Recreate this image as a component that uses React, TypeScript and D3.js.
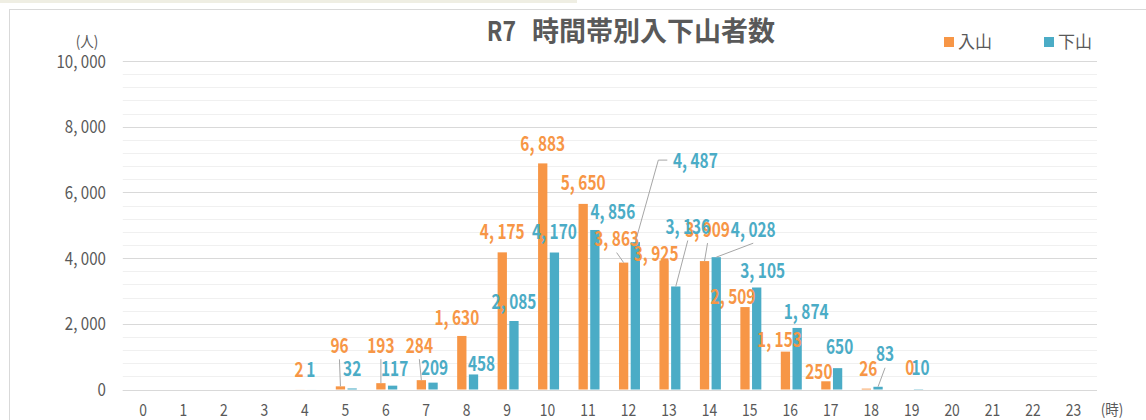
import { useEffect, useRef } from "react";
import * as d3 from "d3";

// hours of the day (category axis)
const hours = ["0","1","2","3","4","5","6","7","8","9","10","11","12","13","14","15","16","17","18","19","20","21","22","23"];
// 入山 (going up) per hour
const nyuzan = [null,null,null,null,2,96,193,284,1630,4175,6883,5650,3863,3925,3909,2509,1153,250,26,0,null,null,null,null];
// 下山 (coming down) per hour
const gezan = [null,null,null,null,1,32,117,209,458,2085,4170,4856,4487,3136,4028,3105,1874,650,83,10,null,null,null,null];
const yTicks = [0, 2000, 4000, 6000, 8000, 10000];

// manual label nudges [dx, dy, leader] copied from the excel layout (0 none, 1 straight, 2 elbow)
const inNudge: Record<number, number[]> = {
  4: [-1, -8, 0], 5: [-1, -29, 1], 6: [0, -26, 1], 7: [-2, -23, 1], 8: [-5, -6, 0],
  9: [0, -9, 0], 10: [0, -8, 0], 11: [0, -9, 0], 12: [-7, -12, 1], 13: [-8, 5, 0],
  14: [3, -20, 1], 15: [-12, 1, 0], 16: [-6, 0, 0], 17: [-7, 2, 0], 18: [2, -8, 0], 19: [3, -10, 0],
};
const outNudge: Record<number, number[]> = {
  4: [-1, -8, 0], 5: [0, -8, 0], 6: [2, -5, 0], 7: [1.5, -3, 0], 8: [8, 1, 0],
  9: [0, -8, 0], 10: [0, -9, 0], 11: [18, -6, 0], 12: [60, -70, 2], 13: [12, -48, 1],
  14: [37, -16, 1], 15: [6, -5, 0], 16: [9, -4, 0], 17: [2, -10, 0], 18: [7, -21, 1], 19: [2, -10, 0],
};

const ORANGE = "#F79646";
const BLUE = "#4BACC6";
const GRAY = "#595959";
const FONT = "'Noto Sans CJK JP', 'Noto Sans', sans-serif";

export default function App() {
  const svgRef = useRef<SVGSVGElement>(null);

  useEffect(() => {
    document.body.style.margin = "0";
    const svg = d3.select(svgRef.current);
    svg.selectAll("*").remove();

    const plot = { left: 122.8, right: 1093.7, top: 61, bottom: 389.5 };

    const x0 = d3.scaleBand().domain(hours).range([plot.left, plot.right]);
    const groupW = 21;
    const x1 = d3.scaleBand().domain(["in", "out"]).range([0, groupW]).paddingInner(0.205);
    const groupOff = (x0.bandwidth() - groupW) / 2 + 1;
    const y = d3.scaleLinear().domain([0, 10000]).range([plot.bottom, plot.top]);
    const fmt = (v: number) => d3.format(",")(v).replace(/,/g, ", ");

    // condensed-looking text (excel gothic is narrow)
    const cText = (
      g: any, x: number, yy: number, txt: string, size: number, color: string,
      weight = 400, anchor = "middle", sx = 0.8
    ) =>
      g.append("text")
        .attr("transform", `translate(${x},${yy}) scale(${sx},1)`)
        .attr("text-anchor", anchor)
        .attr("font-family", FONT)
        .attr("font-size", size)
        .attr("font-weight", weight)
        .attr("fill", color)
        .text(txt);

    // background + excel frame bits
    svg.append("rect").attr("width", 1146).attr("height", 420).attr("fill", "#fff");
    svg.append("rect").attr("x", 0).attr("y", 0).attr("width", 577).attr("height", 3).attr("fill", "#efeee3");
    svg.append("line").attr("x1", 9).attr("x2", 1146).attr("y1", 9.5).attr("y2", 9.5).attr("stroke", "#d9d9d9");
    svg.append("line").attr("x1", 9.5).attr("x2", 9.5).attr("y1", 9).attr("y2", 420).attr("stroke", "#d9d9d9");

    // gridlines: minor every 400, major every 2000
    const grid = svg.append("g");
    grid.selectAll("line.minor")
      .data(d3.range(400, 10000, 400).filter(v => v % 2000 !== 0))
      .enter().append("line")
      .attr("x1", plot.left).attr("x2", 1097)
      .attr("y1", d => Math.round(y(d)) + 0.5).attr("y2", d => Math.round(y(d)) + 0.5)
      .attr("stroke", "#f0f0f0");
    grid.selectAll("line.major")
      .data(yTicks)
      .enter().append("line")
      .attr("x1", plot.left).attr("x2", 1097)
      .attr("y1", d => Math.round(y(d)) + 0.5).attr("y2", d => Math.round(y(d)) + 0.5)
      .attr("stroke", "#d9d9d9");

    // y tick labels
    yTicks.forEach(t => {
      cText(svg, 106, y(t) + 6.5, fmt(t), 18, GRAY, 400, "end", 0.84);
    });
    cText(svg, 87, 47, "(人)", 15, GRAY, 400, "middle", 0.9);

    // x tick labels
    hours.forEach(h => {
      cText(svg, x0(h)! + x0.bandwidth() / 2, 416, h, 17, GRAY, 400, "middle", 0.82);
    });
    cText(svg, 1112, 415, "(時)", 15, GRAY, 400, "middle", 0.9);

    // bars
    const series = [
      { key: "in", values: nyuzan, color: ORANGE, nudge: inNudge },
      { key: "out", values: gezan, color: BLUE, nudge: outNudge },
    ];
    const barX = (h: string, key: string) => x0(h)! + groupOff + x1(key)!;

    series.forEach(s => {
      svg.append("g").selectAll("rect")
        .data(hours.map((h, i) => ({ h, v: s.values[i] })).filter(d => d.v != null))
        .enter().append("rect")
        .attr("x", d => barX(d.h, s.key))
        .attr("width", x1.bandwidth())
        .attr("y", d => y(d.v as number))
        .attr("height", d => plot.bottom - y(d.v as number))
        .attr("fill", s.color);
    });

    // axis line
    svg.append("line")
      .attr("x1", plot.left).attr("x2", 1097)
      .attr("y1", Math.round(plot.bottom) + 0.5).attr("y2", Math.round(plot.bottom) + 0.5)
      .attr("stroke", "#d9d9d9");

    // data labels with leader lines
    const lab = svg.append("g");
    series.forEach(s => {
      hours.forEach((h, i) => {
        const v = s.values[i];
        if (v == null) return;
        const [dx, dy, leader] = s.nudge[i] || [0, 0, 0];
        const bx = barX(h, s.key) + x1.bandwidth() / 2;
        const by = y(v);
        const lx = bx + dx;
        const ly = by - 12 + dy;
        if (leader === 1) {
          lab.append("line")
            .attr("x1", lx).attr("y1", ly + 14)
            .attr("x2", bx).attr("y2", by)
            .attr("stroke", "#a6a6a6").attr("stroke-width", 1);
        } else if (leader === 2) {
          lab.append("polyline")
            .attr("points", `${lx - 28},${ly} ${lx - 37},${ly} ${bx},${by}`)
            .attr("fill", "none")
            .attr("stroke", "#a6a6a6").attr("stroke-width", 1);
        }
        cText(lab, lx, ly + 7.5, fmt(v), 20, s.color, 700, "middle", 0.77);
      });
    });

    // title
    cText(svg, 516, 41, "R7", 27, GRAY, 700, "end", 0.85);
    cText(svg, 532, 41, "時間帯別入下山者数", 27, GRAY, 700, "start", 1.0);

    // legend
    const legend = [
      { label: "入山", color: ORANGE, x: 944 },
      { label: "下山", color: BLUE, x: 1044 },
    ];
    legend.forEach(l => {
      svg.append("rect").attr("x", l.x).attr("y", 37).attr("width", 10).attr("height", 10).attr("fill", l.color);
      cText(svg, l.x + 14, 48, l.label, 17, GRAY, 400, "start", 1.0);
    });
  }, []);

  return (
    <svg ref={svgRef} width={1146} height={420} viewBox="0 0 1146 420" style={{ display: "block" }} />
  );
}
